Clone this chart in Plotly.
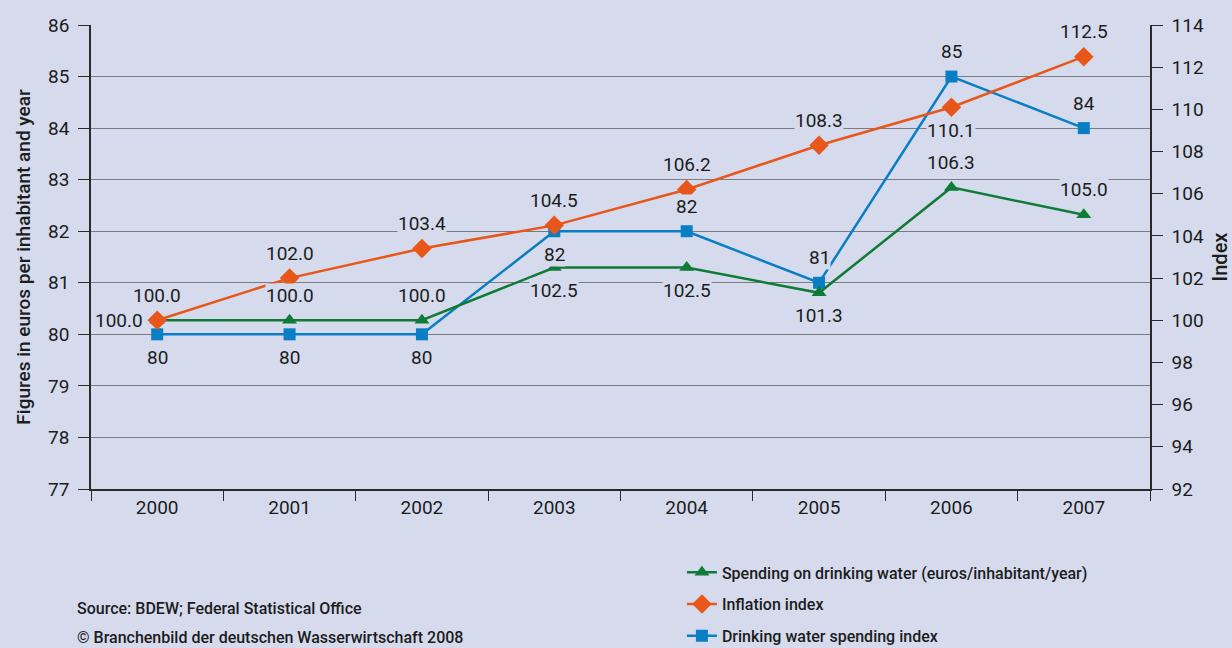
import plotly.graph_objects as go

# data
years = ["2000", "2001", "2002", "2003", "2004", "2005", "2006", "2007"]
spending_euros = [80, 80, 80, 82, 82, 81, 85, 84]                          # left axis
spending_index = [100.0, 100.0, 100.0, 102.5, 102.5, 101.3, 106.3, 105.0]  # right axis
inflation_index = [100.0, 102.0, 103.4, 104.5, 106.2, 108.3, 110.1, 112.5] # right axis

# where each value label sits relative to its marker
pos_blue = ["below", "below", "below", "below", "above", "above", "above", "above"]
pos_green = ["above", "above", "above", "below", "below", "below", "above", "above"]
pos_orange = ["left", "above", "above", "above", "above", "above", "below", "above"]

BG = "#d5dbec"
TXT = "#1c1c1c"
GREEN = "#0f7b36"
ORANGE = "#e8561a"
BLUE = "#0a7ec5"
FONT = "Roboto, Liberation Sans, sans-serif"

fig = go.Figure()

fig.add_trace(go.Scatter(
    x=years, y=spending_index, yaxis="y2", mode="lines+markers",
    name="Spending on drinking water (euros/inhabitant/year)", legendgroup="g",
    line=dict(color=GREEN, width=2.5),
    marker=dict(symbol="triangle-up", size=13, color=GREEN),
))
fig.add_trace(go.Scatter(
    x=years, y=inflation_index, yaxis="y2", mode="lines+markers",
    name="Inflation index", legendgroup="o",
    line=dict(color=ORANGE, width=2.5),
    marker=dict(symbol="diamond", size=15, color=ORANGE),
))
fig.add_trace(go.Scatter(
    x=years, y=spending_euros, yaxis="y", mode="lines+markers",
    name="Drinking water spending index", legendgroup="b",
    line=dict(color=BLUE, width=2.5),
    marker=dict(symbol="square", size=12, color=BLUE),
))


def add_labels(values, texts, placements, yref):
    # annotations on a category axis take the category index as x
    for i, (v, t, p) in enumerate(zip(values, texts, placements)):
        shift = dict(above=(0, 25), below=(0, -23), left=(-13, 0))[p]
        fig.add_annotation(
            x=i, y=v, xref="x", yref=yref, text=t, showarrow=False,
            xanchor="right" if p == "left" else "center", yanchor="middle",
            xshift=shift[0], yshift=shift[1], bgcolor=BG, borderpad=0,
            font=dict(family=FONT, size=19, color=TXT),
        )


add_labels(spending_euros, [str(v) for v in spending_euros], pos_blue, "y")
add_labels(spending_index, [f"{v:.1f}" for v in spending_index], pos_green, "y2")
add_labels(inflation_index, [f"{v:.1f}" for v in inflation_index], pos_orange, "y2")

note_font = dict(family=FONT, size=16, color=TXT, weight=500)
fig.add_annotation(
    x=-0.015, y=-0.257, xref="paper", yref="paper", showarrow=False,
    text="Source: BDEW; Federal Statistical Office", xanchor="left", yanchor="middle",
    font=note_font,
)
fig.add_annotation(
    x=-0.015, y=-0.321, xref="paper", yref="paper", showarrow=False,
    text="© Branchenbild der deutschen Wasserwirtschaft 2008", xanchor="left", yanchor="middle",
    font=note_font,
)

axis_font = dict(family=FONT, size=19, color=TXT)
fig.update_layout(
    width=1232, height=648,
    margin=dict(l=91, r=82, t=25, b=159, autoexpand=False),
    paper_bgcolor=BG, plot_bgcolor=BG,
    font=dict(family=FONT, color=TXT),
    xaxis=dict(
        type="category", range=[-0.5, 7.5], tickson="boundaries", ticks="outside",
        ticklen=10, tickcolor="#2a2a2a", tickwidth=1.3, showline=True,
        linecolor="#2a2a2a", linewidth=1.5, showgrid=False, tickfont=axis_font,
        zeroline=False, tickangle=0,
    ),
    yaxis=dict(
        range=[77, 86], dtick=1, ticks="outside", ticklen=11, tickwidth=1.3,
        tickcolor="#2a2a2a", showline=True, linecolor="#2a2a2a", linewidth=1.5,
        showgrid=True, gridcolor="#7b7c82", gridwidth=1, zeroline=False,
        tickfont=axis_font, ticklabelstandoff=5,
        title=dict(text="Figures in euros per inhabitant and year", standoff=12,
                   font=dict(family=FONT, size=19, color=TXT, weight=500)),
    ),
    yaxis2=dict(
        range=[92, 114], dtick=2, overlaying="y", side="right",
        ticks="outside", ticklen=11, tickwidth=1.3, tickcolor="#2a2a2a",
        showline=True, linecolor="#2a2a2a", linewidth=1.5, showgrid=False,
        zeroline=False, tickfont=axis_font, ticklabelstandoff=5,
        title=dict(text="Index", standoff=14,
                   font=dict(family=FONT, size=20, color=TXT, weight=500)),
    ),
    legend=dict(
        x=0.558, y=-0.143, xanchor="left", yanchor="top",
        bgcolor="rgba(0,0,0,0)", traceorder="grouped", tracegroupgap=8,
        font=dict(family=FONT, size=16, color=TXT, weight=500),
    ),
    showlegend=True,
)

fig.write_html("out.html", config={"displayModeBar": False},
               post_script="document.body.style.margin='0';")
